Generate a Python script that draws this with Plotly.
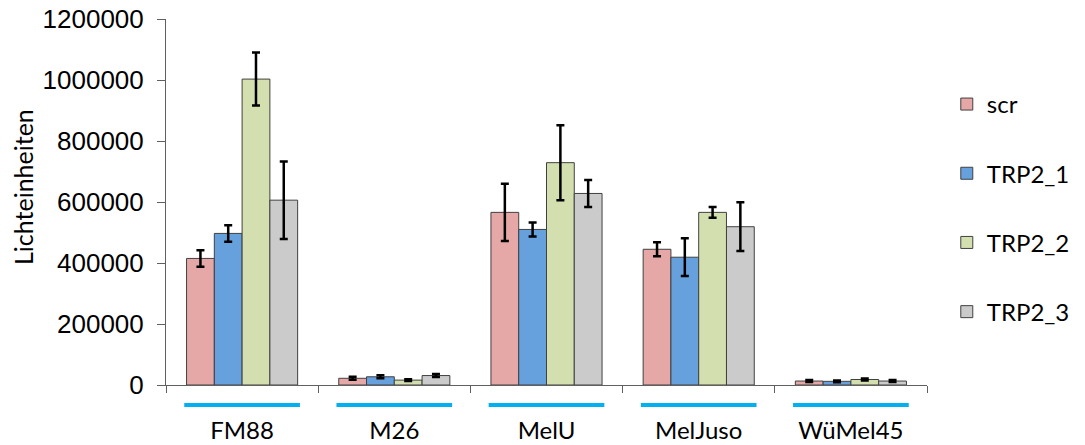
import plotly.graph_objects as go

categories = ["FM88", "M26", "MelU", "MelJuso", "WüMel45"]
series_names = ["scr", "TRP2_1", "TRP2_2", "TRP2_3"]
scr = [415000, 22000, 566000, 445000, 13000]
trp2_1 = [497000, 27000, 510000, 419000, 12000]
trp2_2 = [1003000, 16000, 729000, 566000, 18000]
trp2_3 = [606000, 31000, 628000, 519000, 13000]
scr_err = [27000, 5000, 94000, 23000, 3000]
trp2_1_err = [27000, 5000, 23000, 62000, 3000]
trp2_2_err = [87000, 3000, 123000, 18000, 3000]
trp2_3_err = [127000, 5000, 44000, 80000, 3000]
y_ticks = [0, 200000, 400000, 600000, 800000, 1000000, 1200000]

values = [scr, trp2_1, trp2_2, trp2_3]
errors = [scr_err, trp2_1_err, trp2_2_err, trp2_3_err]
colors = ["#E5A8A7", "#66A0DD", "#D3DFAF", "#CBCBCB"]

fig = go.Figure()
for i, (name, vals, errs, col) in enumerate(zip(series_names, values, errors, colors)):
    fig.add_trace(go.Bar(
        x=categories, y=vals, name=name, legendgroup=name,
        marker=dict(color=col, line=dict(color="#404040", width=1)),
        error_y=dict(type="data", array=errs, visible=True, color="black",
                     thickness=2.5, width=4),
    ))

W, H = 1085, 445
L, T = 166, 19
plot_w, plot_h = 761, 366
R = W - L - plot_w
B = H - T - plot_h

# cyan underline per category
for i, c in enumerate(categories):
    fig.add_shape(type="line", xref="x", yref="paper",
                  x0=i - 0.38, x1=i + 0.38,
                  y0=-20 / plot_h, y1=-20 / plot_h,
                  line=dict(color="#00B0F0", width=4))

fig.add_annotation(text="Lichteinheiten", xref="paper", yref="paper",
                   x=(23 - 166) / plot_w, y=(385 - 187) / plot_h,
                   textangle=-90, showarrow=False,
                   font=dict(family="Lato", size=25, color="black"),
                   xanchor="center", yanchor="middle")

fig.update_layout(
    width=W, height=H,
    margin=dict(l=L, r=R, t=T, b=B, autoexpand=False),
    paper_bgcolor="white", plot_bgcolor="white",
    barmode="group", bargap=0.27, bargroupgap=0,
    showlegend=True,
    legend=dict(x=1.026, y=0.828, xanchor="left", yanchor="top",
                font=dict(family="Lato", size=24, color="black"),
                tracegroupgap=35, traceorder="grouped",
                bgcolor="rgba(0,0,0,0)"),
    xaxis=dict(type="category", showline=True, linecolor="#606060", linewidth=1,
               ticks="outside", tickson="boundaries", ticklen=7, tickcolor="#606060",
               tickfont=dict(family="Lato", size=24, color="black"),
               ticklabelstandoff=24, showgrid=False, zeroline=False, automargin=False,
               ticklabeloverflow="allow",
               range=[-0.5, len(categories) - 0.5]),
    yaxis=dict(range=[0, 1200000], tickvals=y_ticks, tickformat="d",
               showline=True, linecolor="#606060", linewidth=1,
               ticks="outside", ticklen=8, tickcolor="#606060",
               tickfont=dict(family="Liberation Sans", size=26, color="black"),
               ticklabelstandoff=8, showgrid=False, zeroline=False, automargin=False,
               ticklabeloverflow="allow"),
)

fig.write_html("out.html",
               config={"displayModeBar": False},
               post_script="document.body.style.margin='0';document.body.style.overflow='hidden';")
